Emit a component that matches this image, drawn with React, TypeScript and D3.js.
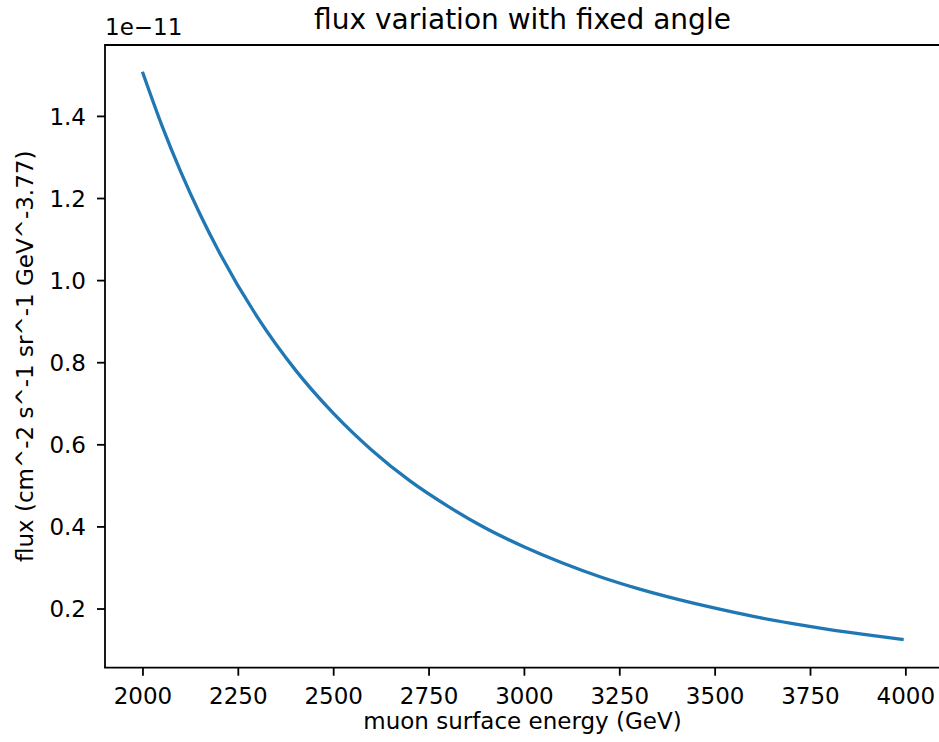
import React from "react";
import * as d3 from "d3";

const energies = [2000, 2050, 2100, 2150, 2200, 2300, 2400, 2500, 2600, 2700, 2800, 2900, 3000, 3100, 3200, 3300, 3400, 3500, 3600, 3700, 3800, 3900, 3990];
const flux = [1.505, 1.377, 1.263, 1.161, 1.069, 0.911, 0.782, 0.676, 0.587, 0.512, 0.45, 0.396, 0.351, 0.312, 0.278, 0.249, 0.224, 0.202, 0.182, 0.165, 0.15, 0.137, 0.126];
const xTicks = [2000, 2250, 2500, 2750, 3000, 3250, 3500, 3750, 4000];
const yTicks = [0.2, 0.4, 0.6, 0.8, 1.0, 1.2, 1.4];

const W = 939, H = 742;
const L = 105, R = 940, T = 45, B = 667.7;
const FONT = "DejaVu Sans";

export default function App() {
  const [x0, x1] = d3.extent(energies) as [number, number];
  const [y0, y1] = d3.extent(flux) as [number, number];
  const mx = (x1 - x0) * 0.05, my = (y1 - y0) * 0.05;
  const x = d3.scaleLinear().domain([x0 - mx, x1 + mx]).range([L, R]);
  const y = d3.scaleLinear().domain([y0 - my, y1 + my]).range([B, T]);
  const pts = energies.map((e, i) => [e, flux[i]] as [number, number]);
  const line = d3.line<[number, number]>().x(d => x(d[0])).y(d => y(d[1])).curve(d3.curveMonotoneX);
  const cx = (L + R) / 2;
  const cy = (T + B) / 2;
  return (
    <svg width={W} height={H} style={{ position: "absolute", left: 0, top: 0, background: "#fff" }} fontFamily={FONT}>
      <rect x={0} y={0} width={W} height={H} fill="#fff" />
      <path d={line(pts) || ""} fill="none" stroke="#1f77b4" strokeWidth={3.3} strokeLinecap="square" />
      <line x1={L} x2={L} y1={T} y2={B} stroke="#000" strokeWidth={1.8} />
      <line x1={L} x2={R} y1={B} y2={B} stroke="#000" strokeWidth={1.8} strokeLinecap="square" />
      <line x1={L} x2={R} y1={T} y2={T} stroke="#000" strokeWidth={1.8} strokeLinecap="square" />
      <line x1={R} x2={R} y1={T} y2={B} stroke="#000" strokeWidth={1.8} />
      {xTicks.map(t => (
        <g key={t}>
          <line x1={x(t)} x2={x(t)} y1={B} y2={B + 8} stroke="#000" strokeWidth={1.8} />
          <text x={x(t)} y={703.5} textAnchor="middle" fontSize={23} fill="#000">{t}</text>
        </g>
      ))}
      {yTicks.map(t => (
        <g key={t}>
          <line x1={L - 8} x2={L} y1={y(t)} y2={y(t)} stroke="#000" strokeWidth={1.8} />
          <text x={L - 19} y={y(t)} dy="0.36em" textAnchor="end" fontSize={23} fill="#000">{t.toFixed(1)}</text>
        </g>
      ))}
      <text x={L} y={35} fontSize={23} fill="#000">1e−11</text>
      <text x={cx} y={28.5} textAnchor="middle" fontSize={28} fill="#000">flux variation with fixed angle</text>
      <text x={cx} y={729} textAnchor="middle" fontSize={23} fill="#000">muon surface energy (GeV)</text>
      <text transform={`translate(33,${cy}) rotate(-90)`} textAnchor="middle" fontSize={23} fill="#000">flux (cm^-2 s^-1 sr^-1 GeV^-3.77)</text>
    </svg>
  );
}
